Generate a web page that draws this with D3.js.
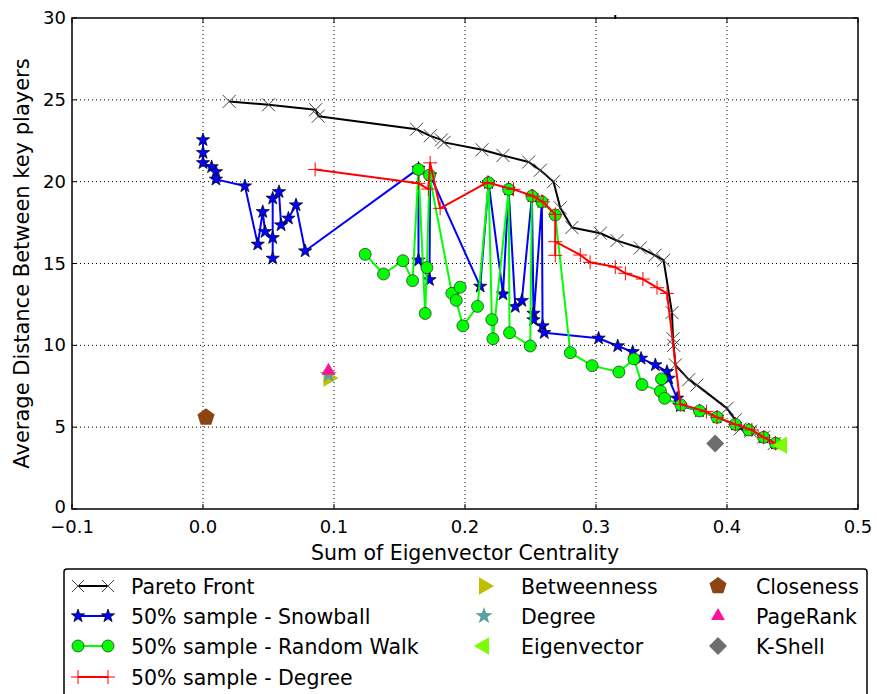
<!DOCTYPE html>
<html>
<head>
<meta charset="utf-8">
<script src="https://cdn.jsdelivr.net/npm/d3@7"></script>
<style>
  body { margin: 0; background: #fff; }
  text { font-family: "DejaVu Sans", sans-serif; fill: #000; }
</style>
</head>
<body>
<div id="chart"></div>
<script>
// data
var paretoX = [0.020,0.050,0.086,0.088,0.163,0.1735,0.182,0.184,0.213,0.229,0.2486,0.2575,0.2676,0.2727,0.2816,0.3033,0.316,0.3338,0.345,0.3516,0.358,0.3588,0.3593,0.3606,0.3708,0.377,0.400,0.4064,0.410,0.418,0.428,0.436];
var paretoY = [24.9,24.7,24.4,24.0,23.2,22.8,22.55,22.4,21.95,21.6,21.2,20.7,20.0,18.4,17.2,16.85,16.4,15.95,15.5,15.2,12.0,10.4,10.0,8.8,7.9,7.57,6.15,5.45,4.9,4.75,4.4,4.0];

var snowballX = [0.0,0.0,0.0,0.0066,0.0099,0.0099,0.032,0.0418,0.0456,0.0474,0.0532,0.0532,0.0532,0.058,0.0596,0.0652,0.071,0.078,0.1645,0.1645,0.1729,0.1734,0.2116,0.218,0.229,0.2333,0.2384,0.2434,0.2511,0.2523,0.2523,0.2587,0.2592,0.2605,0.302,0.3166,0.328,0.3344,0.3453,0.3542,0.3555,0.3619,0.3644,0.379,0.3924,0.4064,0.4166,0.428,0.437];
var snowballY = [22.55,21.77,21.15,20.9,20.6,20.14,19.73,16.17,18.16,16.94,16.57,15.31,18.98,19.38,17.35,17.76,18.57,15.76,20.8,15.2,14.0,20.4,13.6,19.93,13.13,19.53,12.36,12.73,19.12,11.95,11.55,18.77,11.18,10.77,10.43,9.96,9.6,9.2,8.8,8.39,7.98,6.76,6.3,5.99,5.6,5.17,4.83,4.38,4.01];

var walkX = [0.1238,0.1378,0.1526,0.160,0.1645,0.1696,0.1709,0.1729,0.19,0.1963,0.1933,0.1984,0.2096,0.218,0.2205,0.2213,0.2333,0.234,0.2498,0.2511,0.2587,0.2689,0.2804,0.297,0.3175,0.329,0.3351,0.3492,0.35,0.3524,0.3648,0.379,0.3924,0.4064,0.4166,0.428,0.437];
var walkY = [15.56,14.36,15.17,13.95,20.75,11.95,14.75,20.4,13.18,13.55,12.75,11.19,12.38,19.93,11.57,10.4,19.53,10.77,9.96,19.12,18.77,17.96,9.55,8.76,8.37,9.17,7.6,7.2,7.95,6.76,6.35,5.99,5.6,5.17,4.83,4.38,4.01];

var degSampleX = [0.0856,0.1645,0.172,0.1734,0.181,0.217,0.237,0.2518,0.2595,0.2689,0.2689,0.2689,0.288,0.2955,0.3147,0.3224,0.3358,0.3466,0.3542,0.3644,0.3843,0.3924,0.4064,0.419,0.428,0.437];
var degSampleY = [20.75,19.9,19.55,21.15,18.37,19.95,19.53,19.12,18.77,18.0,15.5,16.33,15.52,15.07,14.78,14.4,14.05,13.52,13.17,6.4,5.95,5.6,5.17,4.83,4.38,4.01];

var singleNames = ["Betweenness","Degree","PageRank","Closeness","K-Shell","Eigenvector"];
var singleX = [0.0958,0.0958,0.0958,0.0023,0.391,0.442];
var singleY = [8.0,8.2,8.45,5.6,4.0,3.9];

var xTicks = [-0.1,0.0,0.1,0.2,0.3,0.4,0.5];
var yTicks = [0,5,10,15,20,25,30];

var svgWidth = 877, svgHeight = 694;
var margin = {top: 18, right: 19, bottom: 185, left: 72};
var width = svgWidth - margin.left - margin.right;
var height = svgHeight - margin.top - margin.bottom;

var svg = d3.select("#chart").append("svg")
  .attr("width", svgWidth)
  .attr("height", svgHeight);

var chartGroup = svg.append("g")
  .attr("transform", `translate(${margin.left}, ${margin.top})`);

var x = d3.scaleLinear().domain([-0.1, 0.5]).range([0, width]);
var y = d3.scaleLinear().domain([0, 30]).range([height, 0]);

// dotted grid
chartGroup.append("g").selectAll("line").data(xTicks.slice(1, -1)).enter()
  .append("line")
  .attr("x1", d => x(d)).attr("x2", d => x(d))
  .attr("y1", 0).attr("y2", height)
  .attr("stroke", "#000").attr("stroke-width", 1).attr("stroke-dasharray", "1,3");
chartGroup.append("g").selectAll("line").data(yTicks.slice(1, -1)).enter()
  .append("line")
  .attr("y1", d => y(d)).attr("y2", d => y(d))
  .attr("x1", 0).attr("x2", width)
  .attr("stroke", "#000").attr("stroke-width", 1).attr("stroke-dasharray", "1,3");

// marker shapes
function xMark(s) { return `M${-s},${-s}L${s},${s}M${-s},${s}L${s},${-s}`; }
function plusMark(s) { return `M${-s},0L${s},0M0,${-s}L0,${s}`; }
function star(r) {
  var pts = [];
  for (var i = 0; i < 10; i++) {
    var rr = i % 2 ? r * 0.4 : r;
    var a = -Math.PI / 2 + i * Math.PI / 5;
    pts.push([rr * Math.cos(a), rr * Math.sin(a)]);
  }
  return "M" + pts.join("L") + "Z";
}
function poly(n, r, rot) {
  var pts = [];
  for (var i = 0; i < n; i++) {
    var a = rot + i * 2 * Math.PI / n;
    pts.push([r * Math.cos(a), r * Math.sin(a)]);
  }
  return "M" + pts.join("L") + "Z";
}

var plotArea = chartGroup.append("g");

function drawLine(xs, ys, color) {
  var pts = xs.map((v, i) => [v, ys[i]]);
  plotArea.append("path")
    .datum(pts)
    .attr("fill", "none")
    .attr("stroke", color)
    .attr("stroke-width", 2)
    .attr("stroke-linejoin", "round")
    .attr("d", d3.line().x(d => x(d[0])).y(d => y(d[1])));
  return pts;
}

// Pareto front
var paretoPts = drawLine(paretoX, paretoY, "#000");
plotArea.append("g").selectAll("path").data(paretoPts).enter()
  .append("path")
  .attr("transform", d => `translate(${x(d[0])},${y(d[1])})`)
  .attr("d", xMark(6.5))
  .attr("stroke", "#444").attr("stroke-width", 1).attr("fill", "none");

// Snowball
var snowPts = drawLine(snowballX, snowballY, "#0000ff");
plotArea.append("g").selectAll("path").data(snowPts).enter()
  .append("path")
  .attr("transform", d => `translate(${x(d[0])},${y(d[1])})`)
  .attr("d", star(7))
  .attr("fill", "#0000ff").attr("stroke", "#000").attr("stroke-width", 0.7);

// Random walk
var walkPts = drawLine(walkX, walkY, "#00ff00");
plotArea.append("g").selectAll("circle").data(walkPts).enter()
  .append("circle")
  .attr("cx", d => x(d[0])).attr("cy", d => y(d[1]))
  .attr("r", 6)
  .attr("fill", "#00ff00").attr("stroke", "#222").attr("stroke-width", 0.7);

// Degree sample
var degPts = drawLine(degSampleX, degSampleY, "#ff0000");
plotArea.append("g").selectAll("path").data(degPts).enter()
  .append("path")
  .attr("transform", d => `translate(${x(d[0])},${y(d[1])})`)
  .attr("d", plusMark(7))
  .attr("stroke", "#ff0000").attr("stroke-width", 1).attr("fill", "none");

// single-method results
var singleStyle = {
  "Betweenness": {d: poly(3, 10, 0), fill: "#bfbf00"},
  "Degree": {d: star(9), fill: "#5f9ea0"},
  "PageRank": {d: poly(3, 8, -Math.PI / 2), fill: "#ff1493"},
  "Closeness": {d: poly(5, 9, -Math.PI / 2), fill: "#8b4513"},
  "K-Shell": {d: poly(4, 9, -Math.PI / 2), fill: "#6e6e6e"},
  "Eigenvector": {d: poly(3, 10, Math.PI), fill: "#7cfc00"}
};
singleNames.forEach(function(name, i) {
  plotArea.append("path")
    .attr("transform", `translate(${x(singleX[i])},${y(singleY[i])})`)
    .attr("d", singleStyle[name].d)
    .attr("fill", singleStyle[name].fill);
});

// small clipped mark on the top spine
chartGroup.append("rect")
  .attr("x", x(0.3147) - 1).attr("y", -3).attr("width", 2).attr("height", 4)
  .attr("fill", "#000");

// frame and inward ticks
chartGroup.append("rect")
  .attr("width", width).attr("height", height)
  .attr("fill", "none").attr("stroke", "#000").attr("stroke-width", 1.5);

xTicks.forEach(function(t) {
  chartGroup.append("line").attr("x1", x(t)).attr("x2", x(t)).attr("y1", height).attr("y2", height - 5).attr("stroke", "#000");
  chartGroup.append("line").attr("x1", x(t)).attr("x2", x(t)).attr("y1", 0).attr("y2", 5).attr("stroke", "#000");
  chartGroup.append("text")
    .attr("x", x(t)).attr("y", height + 24)
    .attr("text-anchor", "middle")
    .style("font-size", "18px")
    .text(t < 0 ? "\u2212" + Math.abs(t).toFixed(1) : t.toFixed(1));
});
yTicks.forEach(function(t) {
  chartGroup.append("line").attr("x1", 0).attr("x2", 5).attr("y1", y(t)).attr("y2", y(t)).attr("stroke", "#000");
  chartGroup.append("line").attr("x1", width).attr("x2", width - 5).attr("y1", y(t)).attr("y2", y(t)).attr("stroke", "#000");
  chartGroup.append("text")
    .attr("x", -6).attr("y", t === 0 ? y(t) + 4 : y(t) + 6)
    .attr("text-anchor", "end")
    .style("font-size", "18px")
    .text(t);
});

chartGroup.append("text")
  .attr("x", width / 2).attr("y", height + 51)
  .attr("text-anchor", "middle")
  .style("font-size", "20.5px")
  .text("Sum of Eigenvector Centrality");

chartGroup.append("text")
  .attr("transform", "rotate(-90)")
  .attr("x", -height / 2).attr("y", -margin.left + 29)
  .attr("text-anchor", "middle")
  .style("font-size", "21px")
  .text("Average Distance Between key players");

// legend
var legend = svg.append("g");
legend.append("rect")
  .attr("x", 64).attr("y", 569).attr("width", 803).attr("height", 140)
  .attr("rx", 3)
  .attr("fill", "#fff").attr("stroke", "#000").attr("stroke-width", 1.5);

var rowY = [586, 616, 646, 677];
var lineItems = [
  {label: "Pareto Front", color: "#000", mark: "x"},
  {label: "50% sample - Snowball", color: "#0000ff", mark: "star"},
  {label: "50% sample - Random Walk", color: "#00ff00", mark: "circle"},
  {label: "50% sample - Degree", color: "#ff0000", mark: "plus"}
];
lineItems.forEach(function(it, i) {
  var g = legend.append("g").attr("transform", `translate(0, ${rowY[i]})`);
  g.append("line").attr("x1", 78).attr("x2", 108).attr("stroke", it.color).attr("stroke-width", 2);
  [78, 108].forEach(function(px) {
    if (it.mark === "x") {
      g.append("path").attr("transform", `translate(${px},0)`).attr("d", xMark(6)).attr("stroke", "#444").attr("fill", "none");
    } else if (it.mark === "star") {
      g.append("path").attr("transform", `translate(${px},0)`).attr("d", star(7)).attr("fill", "#0000ff").attr("stroke", "#000").attr("stroke-width", 0.7);
    } else if (it.mark === "circle") {
      g.append("circle").attr("cx", px).attr("r", 6).attr("fill", "#00ff00").attr("stroke", "#222").attr("stroke-width", 0.7);
    } else {
      g.append("path").attr("transform", `translate(${px},0)`).attr("d", plusMark(7)).attr("stroke", "#ff0000").attr("fill", "none");
    }
  });
  g.append("text").attr("x", 131).attr("y", 7.5).style("font-size", "20.5px").text(it.label);
});

var markerItems = [
  {name: "Betweenness", col: 0, row: 0},
  {name: "Degree", col: 0, row: 1},
  {name: "Eigenvector", col: 0, row: 2},
  {name: "Closeness", col: 1, row: 0},
  {name: "PageRank", col: 1, row: 1},
  {name: "K-Shell", col: 1, row: 2}
];
var colMarkX = [484, 718];
var colTextX = [521, 756];
markerItems.forEach(function(it) {
  legend.append("path")
    .attr("transform", `translate(${colMarkX[it.col]},${rowY[it.row]})`)
    .attr("d", singleStyle[it.name].d)
    .attr("fill", singleStyle[it.name].fill);
  legend.append("text")
    .attr("x", colTextX[it.col]).attr("y", rowY[it.row] + 7.5)
    .style("font-size", "20.5px")
    .text(it.name);
});
</script>
</body>
</html>
